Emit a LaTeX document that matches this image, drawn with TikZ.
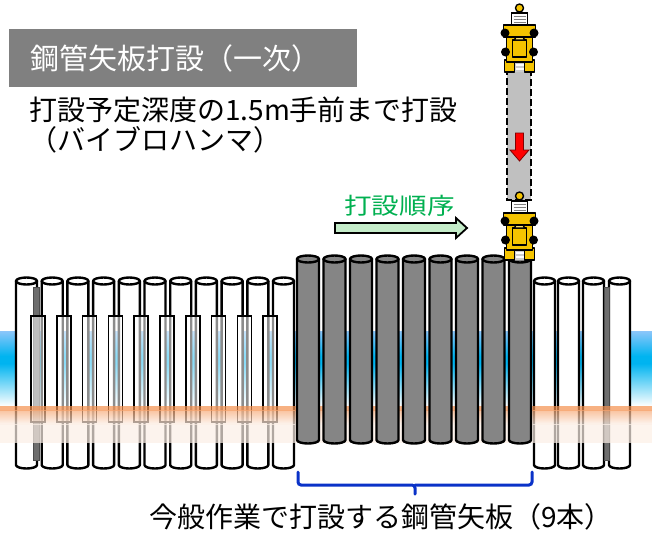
\documentclass[tikz,border=0pt]{standalone}
\usepackage{fontspec}
\newfontfamily\jp{Noto Sans CJK JP}
\usetikzlibrary{calc}

\definecolor{waterlight}{HTML}{8CC6FA}
\definecolor{watercyan}{HTML}{00B4F0}
\definecolor{soilorange}{HTML}{F5904E}
\definecolor{soilpeach}{HTML}{FCEFE6}
\definecolor{pilegray}{HTML}{858585}
\definecolor{bargray}{HTML}{6E6E6E}
\definecolor{titlegray}{HTML}{808080}
\definecolor{machyellow}{HTML}{F5C400}
\definecolor{machlight}{HTML}{FFE36A}
\definecolor{colgray}{HTML}{C0C0C0}
\definecolor{ordergreen}{HTML}{00B050}
\definecolor{arrowgreen}{HTML}{C4ECC9}
\definecolor{bracketblue}{HTML}{0A32C8}

\tikzset{
  pipeline/.style={draw=black, line width=2.4pt, line join=round},
  jointbox/.style={draw=black, line width=1.6pt, fill=white, fill opacity=0.55},
  guidebar/.style={fill=bargray, draw=black!70, line width=0.8pt},
  mach/.style={draw=black, line width=1.4pt, fill=machyellow, line join=round},
  wheel/.style={fill=black},
  bracketline/.style={draw=bracketblue, line width=3pt, rounded corners=3pt, line cap=round},
  jplabel/.style={inner sep=0pt, anchor=base west, font=\jp\fontsize{28}{32}\selectfont},
}

% pipe pile: #1 left edge, #2 width, #3 top, #4 bottom, #5 fill colour
\newcommand\pipepile[5]{%
  \filldraw[pipeline, fill=#5] (#1,#3) -- (#1,#4)
    arc[start angle=180, end angle=0, x radius=#2/2, y radius=3.5] -- ({#1+#2},#3) -- cycle;
  \filldraw[pipeline, fill=#5] ({#1+#2/2},#3) ellipse[x radius=#2/2, y radius=3.5];
}

% vibro hammer seen from above, #1 vertical offset
\newcommand\vibrohammer[1]{%
  \begin{scope}[shift={(519.5,#1)}]
    \fill[gray!40] (-5,60) rectangle (5,72);
    \draw[white, line width=1.2pt] (-4,65) -- (4,65) (-4,69) -- (4,69);
    \filldraw[mach] (-15,60) rectangle (-5,72);
    \filldraw[mach] (5,60) rectangle (15,72);
    \filldraw[mach] (-13,37) rectangle (13,62);
    \fill[wheel] (-14,52) circle[radius=4.5] (14,52) circle[radius=4.5];
    \filldraw[mach] (-7,40) rectangle (7,57);
    \filldraw[mach, fill=machlight] (-5,40) -- (-3.5,36.5) -- (3.5,36.5) -- (5,40) -- cycle;
    \filldraw[mach] (-16,25) rectangle (16,37);
    \fill[wheel] (-14.5,33) circle[radius=4.5] (14.5,33) circle[radius=4.5];
    \filldraw[draw=black, line width=1.4pt, fill=white] (-8,13) rectangle (8,25);
    \draw[gray, line width=1.2pt] (-6,16.5) -- (6,16.5) (-6,19.5) -- (6,19.5) (-6,22.5) -- (6,22.5);
    \filldraw[mach] (0,8) circle[radius=4];
  \end{scope}}

\begin{document}
\begin{tikzpicture}[x=1pt, y=-1pt]
\useasboundingbox (0,0) rectangle (652,541);

% water layer
\shade[top color=waterlight, bottom color=watercyan] (0,331) rectangle (652,356);
\fill[watercyan] (0,355.5) rectangle (652,364);
\shade[top color=watercyan, bottom color=white] (0,363.5) rectangle (652,406);

% already driven piles, left side
\foreach \i in {0,...,10} {
  \pgfmathsetmacro\L{16+25.7*\i}
  \pipepile{\L}{21}{281}{465}{white}
}
% already driven piles, right side
\foreach \L in {534,558,583,609} {
  \pipepile{\L}{21}{281}{465}{white}
}
% guide bars
\filldraw[guidebar] (33,287) rectangle (39,460);
\filldraw[guidebar] (604,287) rectangle (609,460);
% joints between the left piles
\foreach \i in {0,...,9} {
  \pgfmathsetmacro\C{38+25.8*\i}
  \filldraw[jointbox] ({\C-7},316) rectangle ({\C+7},422);
}

% ground layer
\begin{scope}[opacity=0.7]
  \fill[soilorange] (0,406) rectangle (652,411);
  \shade[top color=soilorange!70!soilpeach, bottom color=soilpeach] (0,410.5) rectangle (652,424);
  \fill[soilpeach] (0,423.5) rectangle (652,443);
\end{scope}

% piles driven in this work
\foreach \i in {0,...,8} {
  \pgfmathsetmacro\L{297+26.5*\i}
  \pipepile{\L}{22}{259}{440}{pilegray}
}

% hammer travel path and direction
\filldraw[fill=colgray, draw=black, line width=2pt, dash pattern=on 7pt off 3pt] (507,68) rectangle (531,200);
\filldraw[fill=red, draw=red!50!black, line width=0.8pt]
  (515.5,133) -- (523.5,133) -- (523.5,150) -- (529,150) -- (519.5,161) -- (510,150) -- (515.5,150) -- cycle;
\vibrohammer{0}
\vibrohammer{188}

% title
\fill[titlegray] (9,29) rectangle (357,87);
\node[jplabel, text=white, font=\jp\fontsize{29}{32}\selectfont] (title) at (30,69) {鋼管矢板打設（一次）};
\node[jplabel] (note) at (29,120) {打設予定深度の1.5m手前まで打設};
\node[jplabel] (note2) at (29,150) {（バイブロハンマ）};

% driving order
\node[jplabel, text=ordergreen, font=\jp\fontsize{23}{26}\selectfont, xscale=1.2] (order) at (344,214) {打設順序};
\filldraw[fill=arrowgreen, draw=black, line width=1.8pt, line join=miter]
  (335,223) -- (456,223) -- (456,218) -- (467,228) -- (456,238) -- (456,233) -- (335,233) -- cycle;

% bracket and caption
\draw[bracketline] (298,472) |- (415,485) -- (415,494);
\draw[bracketline] (532,472) |- (415,485);
\node[jplabel] (caption) at (149,527) {今般作業で打設する鋼管矢板（9本）};
\end{tikzpicture}
\end{document}
